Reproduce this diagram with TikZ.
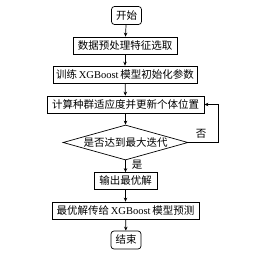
\documentclass[tikz,border=0pt]{standalone}
\usepackage{fontspec}
\setmainfont{Liberation Serif}
\newfontfamily\cjk{Noto Sans CJK SC}
\usetikzlibrary{arrows.meta, positioning, shapes.geometric}
\tikzset{
    base/.style     = {draw = black, line width = 0.7pt, font = \cjk\fontsize{10.5}{12}\selectfont, inner sep = 2pt},
    terminal/.style = {base, rounded corners = 3pt, minimum width = 30pt, minimum height = 18pt},
    process/.style  = {base, minimum height = 17pt},
    decision/.style = {base, diamond, aspect = 3.57, inner sep = 0pt, minimum width = 125pt, minimum height = 35pt},
    flow/.style     = {draw = black, line width = 0.7pt, -{Stealth[length = 4pt, width = 3.5pt]}},
    tag/.style      = {font = \cjk\fontsize{10.5}{12}\selectfont, inner sep = 1pt}
}
\newcommand{\xgb}{{\rmfamily XGBoost}}

\begin{document}
\begin{tikzpicture}[x=1pt, y=-1pt]
		\useasboundingbox (0,0) rectangle (264,256);

		\node[terminal] (start) at (126.5,15.5) {开始};
		\node[process, minimum width=104pt] (prep) at (125,45.5) {数据预处理特征选取};
		\node[process, minimum width=144pt] (init) at (125,74.5) {训练\,\xgb\,模型初始化参数};
		\node[process, minimum width=157pt] (calc) at (125.5,104.5) {计算种群适应度并更新个体位置};
		\node[decision] (check) at (125.5,142.5) {是否达到最大迭代};
		\node[process, minimum width=63pt] (best) at (125.5,181) {输出最优解};
		\node[process, minimum width=147pt] (pred) at (125.5,210.5) {最优解传给\,\xgb\,模型预测};
		\node[terminal] (stop) at (126,240) {结束};

		\coordinate (loop) at (218,142.5);

		\draw[flow] (start) -- (prep);
		\draw[flow] (prep) -- (init);
		\draw[flow] (init) -- (calc);
		\draw[flow] (calc) -- (check);
		\draw[flow] (check) -- (best);
		\draw[flow] (best) -- (pred);
		\draw[flow] (pred) -- (stop);
		\draw[flow] (check.east) -- (loop) |- (calc.east);

		\node[tag] (no) at (201,134) {否};
		\node[tag] (yes) at (137,165) {是};
	\end{tikzpicture}
\end{document}
